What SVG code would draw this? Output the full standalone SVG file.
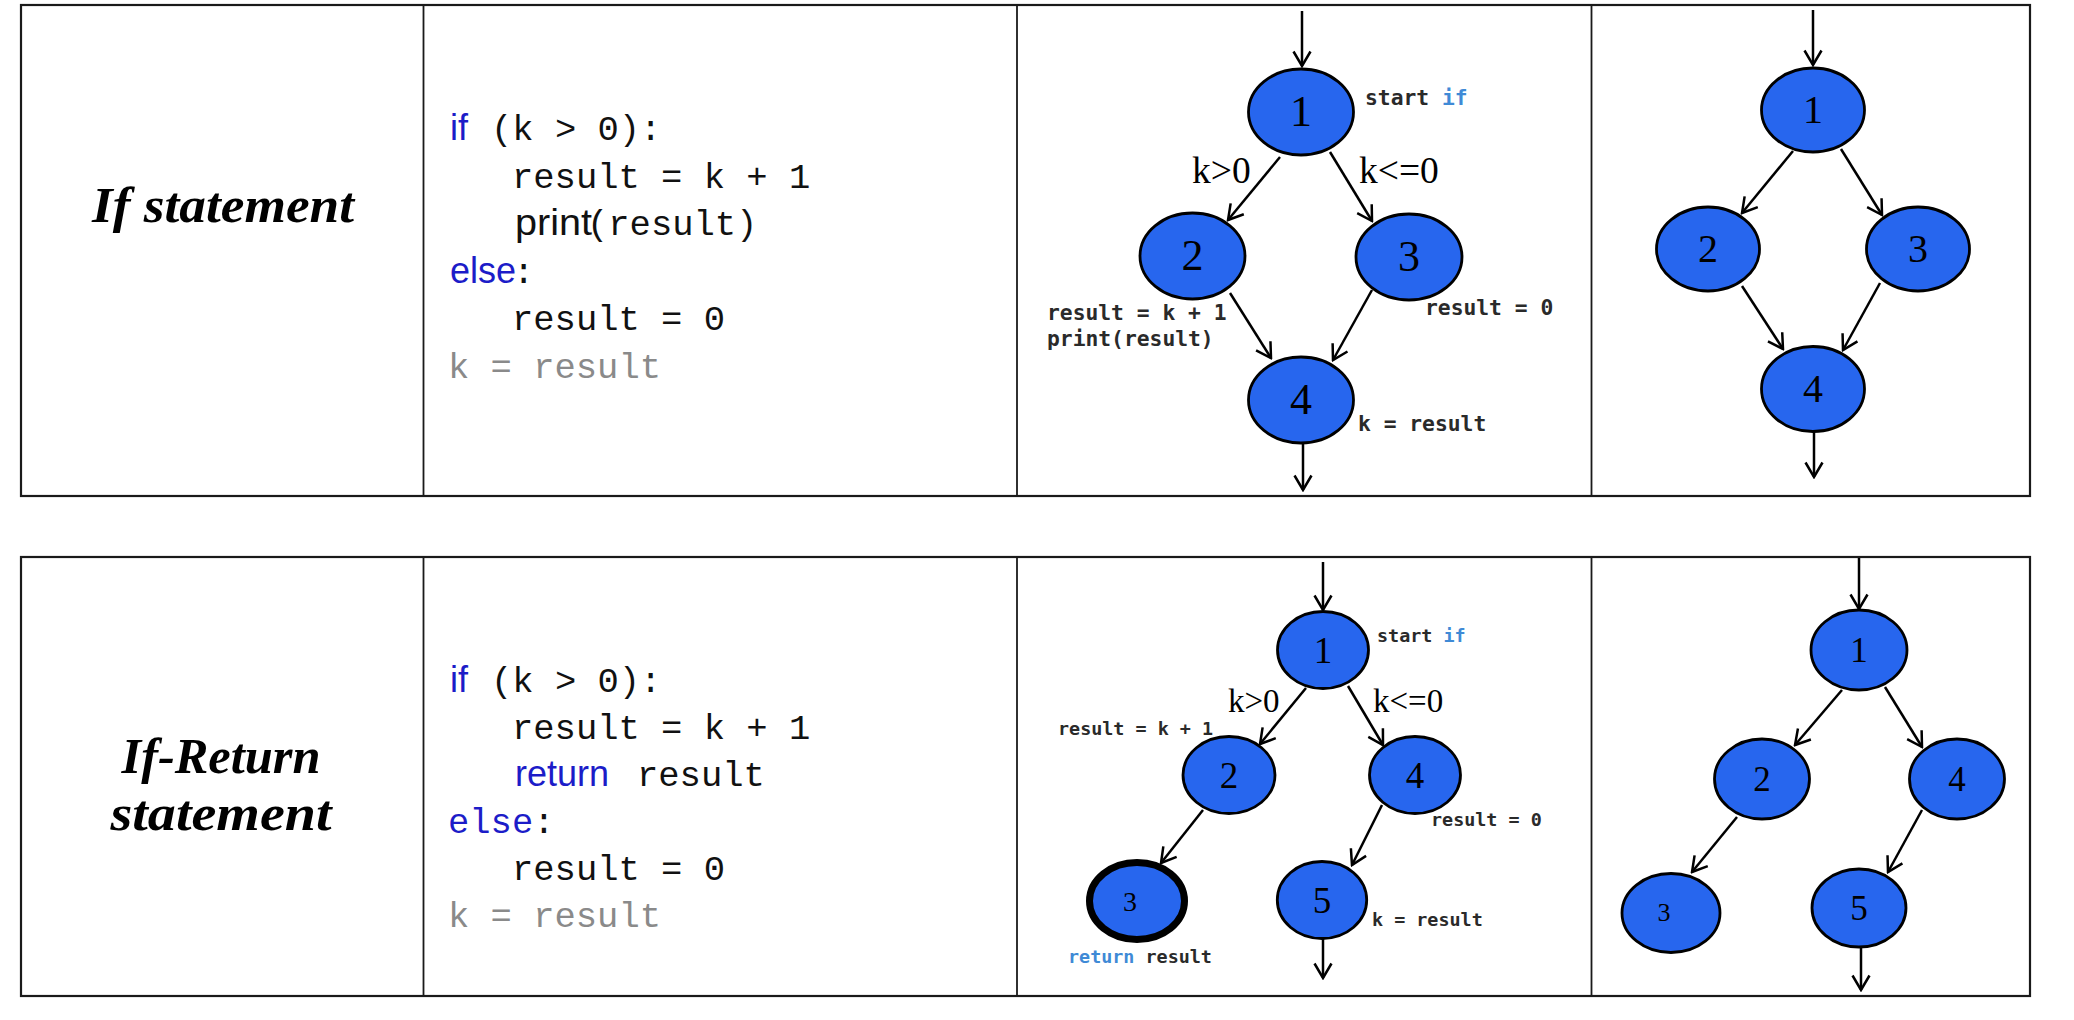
<svg xmlns="http://www.w3.org/2000/svg" width="2074" height="1020" viewBox="0 0 2074 1020">
<defs>
<style>
.tbl{fill:none;stroke:#1a1a1a;stroke-width:2.2}
.div{stroke:#1a1a1a;stroke-width:1.8}
.title{font-family:"Liberation Serif","DejaVu Serif",serif;font-weight:bold;font-style:italic;font-size:50px;fill:#000;text-anchor:middle}
.code{font-family:"Liberation Mono","DejaVu Sans Mono",monospace;font-size:35.5px;fill:#111}
.kw{font-family:"Liberation Sans","Open Sans",sans-serif;font-size:36px;fill:#1c1cc8}
.kwm{fill:#1c1cc8}
.gray{fill:#8a8a8a}
.node{fill:#2766ee;stroke:#000;stroke-width:2.8}
.term{fill:#2766ee;stroke:#000;stroke-width:7}
.num{font-family:"Liberation Serif","DejaVu Serif",serif;fill:#000;text-anchor:middle}
.edge{stroke:#000;stroke-width:2.5;fill:none;marker-end:url(#ah)}
.lbl{font-family:"DejaVu Sans Mono","Liberation Mono",monospace;fill:#2a2a2a;font-weight:bold}
.lbl1{font-size:21.3px}
.lbl2{font-size:18.4px}
.cond{font-family:"Liberation Serif","DejaVu Serif",serif;fill:#000}
.lb{fill:#3f8ad6}
</style>
<marker id="ah" viewBox="0 0 18 20" refX="16" refY="10" markerWidth="18" markerHeight="20" markerUnits="userSpaceOnUse" orient="auto">
<path d="M1.5,1.5 L16,10 L1.5,18.5" fill="none" stroke="#000" stroke-width="2.5"/>
</marker>
</defs>

<g id="table">
<rect class="tbl" x="21" y="5" width="2009" height="491"/>
<line class="div" x1="423.5" y1="5" x2="423.5" y2="496"/>
<line class="div" x1="1017" y1="5" x2="1017" y2="496"/>
<line class="div" x1="1591.5" y1="5" x2="1591.5" y2="496"/>
<rect class="tbl" x="21" y="557" width="2009" height="439"/>
<line class="div" x1="423.5" y1="557" x2="423.5" y2="996"/>
<line class="div" x1="1017" y1="557" x2="1017" y2="996"/>
<line class="div" x1="1591.5" y1="557" x2="1591.5" y2="996"/>
</g>

<g id="titles">
<text class="title" x="223" y="222" textLength="262" lengthAdjust="spacingAndGlyphs">If statement</text>
<text class="title" x="221" y="773" textLength="199" lengthAdjust="spacingAndGlyphs">If-Return</text>
<text class="title" x="221" y="830" textLength="221" lengthAdjust="spacingAndGlyphs">statement</text>
</g>

<g id="code1">
<text class="kw" x="450" y="140">if</text>
<text class="code" x="491" y="140">(k &gt; 0):</text>
<text class="code" x="512" y="187.5">result = k + 1</text>
<text class="kw" x="515" y="235" style="fill:#111" textLength="77" lengthAdjust="spacingAndGlyphs">print</text>
<text class="code" x="587" y="235">(result)</text>
<text class="kw" x="450" y="282.5">else</text>
<text class="code" x="513" y="282.5">:</text>
<text class="code" x="512" y="330">result = 0</text>
<text class="code gray" x="448" y="377.5">k = result</text>
</g>

<g id="code2">
<text class="kw" x="450" y="692">if</text>
<text class="code" x="491" y="692">(k &gt; 0):</text>
<text class="code" x="512" y="739">result = k + 1</text>
<text class="kw" x="515" y="786">return</text>
<text class="code" x="637" y="786">result</text>
<text class="code" x="448" y="833"><tspan class="kwm">else</tspan>:</text>
<text class="code" x="512" y="880">result = 0</text>
<text class="code gray" x="448" y="927">k = result</text>
</g>

<g id="connectors">
<line class="edge" x1="1302" y1="11" x2="1302" y2="66"/>
<line class="edge" x1="1280" y1="157" x2="1228" y2="220"/>
<line class="edge" x1="1330" y1="152" x2="1372" y2="221"/>
<line class="edge" x1="1230" y1="293" x2="1271" y2="358"/>
<line class="edge" x1="1372" y1="290" x2="1333" y2="360"/>
<line class="edge" x1="1303" y1="443" x2="1303" y2="490"/>
<line class="edge" x1="1813" y1="10" x2="1813" y2="65"/>
<line class="edge" x1="1793" y1="151" x2="1742" y2="213"/>
<line class="edge" x1="1841" y1="149" x2="1882" y2="215"/>
<line class="edge" x1="1742" y1="286" x2="1783" y2="349"/>
<line class="edge" x1="1880" y1="283" x2="1843" y2="350"/>
<line class="edge" x1="1814" y1="432" x2="1814" y2="477"/>
<line class="edge" x1="1323" y1="562" x2="1323" y2="610"/>
<line class="edge" x1="1306" y1="688" x2="1260" y2="744"/>
<line class="edge" x1="1348" y1="686" x2="1383" y2="745"/>
<line class="edge" x1="1203" y1="810" x2="1161" y2="863"/>
<line class="edge" x1="1382" y1="805" x2="1352" y2="865"/>
<line class="edge" x1="1323" y1="938" x2="1323" y2="978"/>
<line class="edge" x1="1859" y1="558" x2="1859" y2="609"/>
<line class="edge" x1="1842" y1="690" x2="1795" y2="745"/>
<line class="edge" x1="1885" y1="687" x2="1922" y2="747"/>
<line class="edge" x1="1737" y1="817" x2="1692" y2="872"/>
<line class="edge" x1="1922" y1="810" x2="1888" y2="872"/>
<line class="edge" x1="1861" y1="947" x2="1861" y2="990"/>
</g>

<g id="a1-n1"><ellipse class="node" cx="1301" cy="112" rx="52.5" ry="43"/><text class="num" x="1301" y="126" font-size="44">1</text></g>
<g id="a1-n2"><ellipse class="node" cx="1192.5" cy="256" rx="52.5" ry="43"/><text class="num" x="1192.5" y="270" font-size="44">2</text></g>
<g id="a1-n3"><ellipse class="node" cx="1409" cy="257" rx="53" ry="43"/><text class="num" x="1409" y="271" font-size="44">3</text></g>
<g id="a1-n4"><ellipse class="node" cx="1301" cy="400" rx="52.5" ry="43"/><text class="num" x="1301" y="414" font-size="44">4</text></g>
<g id="a1-labels">
<text class="lbl lbl1" x="1365" y="105">start <tspan class="lb">if</tspan></text>
<text class="cond" x="1192" y="183" font-size="37.5">k&gt;0</text>
<text class="cond" x="1359" y="183" font-size="37.5">k&lt;=0</text>
<text class="lbl lbl1" x="1047" y="320">result = k + 1</text>
<text class="lbl lbl1" x="1047" y="346">print(result)</text>
<text class="lbl lbl1" x="1425" y="315">result = 0</text>
<text class="lbl lbl1" x="1358" y="431">k = result</text>
</g>

<g id="b1-n1"><ellipse class="node" cx="1813" cy="110" rx="51.5" ry="42"/><text class="num" x="1813" y="123" font-size="40">1</text></g>
<g id="b1-n2"><ellipse class="node" cx="1708" cy="249" rx="51.5" ry="42"/><text class="num" x="1708" y="262" font-size="40">2</text></g>
<g id="b1-n3"><ellipse class="node" cx="1918" cy="249" rx="51.5" ry="42"/><text class="num" x="1918" y="262" font-size="40">3</text></g>
<g id="b1-n4"><ellipse class="node" cx="1813" cy="389" rx="51.5" ry="42.5"/><text class="num" x="1813" y="402" font-size="40">4</text></g>

<g id="a2-n1"><ellipse class="node" cx="1323" cy="650" rx="45.5" ry="38.5"/><text class="num" x="1323" y="663" font-size="37">1</text></g>
<g id="a2-n2"><ellipse class="node" cx="1229" cy="775" rx="46" ry="38.5"/><text class="num" x="1229" y="788" font-size="37">2</text></g>
<g id="a2-n4"><ellipse class="node" cx="1415" cy="775" rx="45.5" ry="38.5"/><text class="num" x="1415" y="788" font-size="37">4</text></g>
<g id="a2-n3"><ellipse class="term" cx="1137" cy="901" rx="47.5" ry="38.5"/><text class="num" x="1130" y="911" font-size="28">3</text></g>
<g id="a2-n5"><ellipse class="node" cx="1322" cy="900" rx="44.7" ry="38.5"/><text class="num" x="1322" y="913" font-size="37">5</text></g>
<g id="a2-labels">
<text class="lbl lbl2" x="1377" y="642">start <tspan class="lb">if</tspan></text>
<text class="cond" x="1228" y="712" font-size="33">k&gt;0</text>
<text class="cond" x="1373" y="712" font-size="33">k&lt;=0</text>
<text class="lbl lbl2" x="1058" y="735">result = k + 1</text>
<text class="lbl lbl2" x="1431" y="826">result = 0</text>
<text class="lbl lbl2" x="1372" y="926">k = result</text>
<text class="lbl lbl2" x="1068" y="963"><tspan class="lb">return</tspan> result</text>
</g>

<g id="b2-n1"><ellipse class="node" cx="1859" cy="650" rx="48" ry="40"/><text class="num" x="1859" y="662" font-size="35">1</text></g>
<g id="b2-n2"><ellipse class="node" cx="1762" cy="779" rx="47.5" ry="40"/><text class="num" x="1762" y="791" font-size="35">2</text></g>
<g id="b2-n4"><ellipse class="node" cx="1957" cy="779" rx="47.5" ry="40"/><text class="num" x="1957" y="791" font-size="35">4</text></g>
<g id="b2-n3"><ellipse class="node" cx="1671" cy="913" rx="49" ry="39.5"/><text class="num" x="1664" y="921" font-size="26">3</text></g>
<g id="b2-n5"><ellipse class="node" cx="1859" cy="908" rx="47" ry="39"/><text class="num" x="1859" y="920" font-size="35">5</text></g>
</svg>
